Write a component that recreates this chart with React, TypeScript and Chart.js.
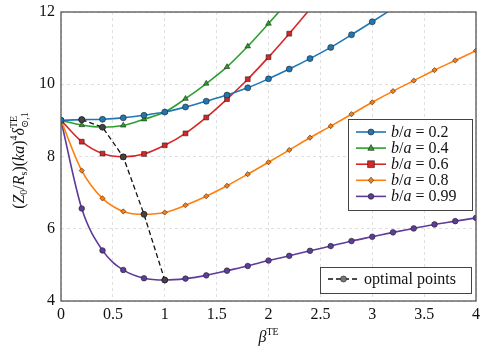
import React, { useEffect, useRef } from "react";
import { Chart, registerables } from "chart.js";

Chart.register(...registerables);

const beta = [0, 0.2, 0.4, 0.6, 0.8, 1.0, 1.2, 1.4, 1.6, 1.8, 2.0, 2.2, 2.4, 2.6, 2.8, 3.0, 3.2, 3.4, 3.6, 3.8, 4.0];

const s02 = [9.0, 9.02, 9.03, 9.07, 9.14, 9.23, 9.37, 9.53, 9.7, 9.9, 10.15, 10.42, 10.71, 11.02, 11.37, 11.73, 12.1];
const s04 = [9.0, 8.87, 8.81, 8.86, 9.03, 9.23, 9.6, 10.02, 10.48, 11.05, 11.68, 12.33];
const s06 = [9.0, 8.41, 8.08, 7.99, 8.07, 8.31, 8.64, 9.08, 9.59, 10.14, 10.75, 11.4, 12.08];
const s08 = [9.0, 7.61, 6.84, 6.48, 6.4, 6.45, 6.65, 6.9, 7.19, 7.51, 7.84, 8.18, 8.52, 8.84, 9.17, 9.5, 9.81, 10.1, 10.39, 10.66, 10.93];
const s099 = [9.0, 6.56, 5.4, 4.86, 4.63, 4.58, 4.62, 4.71, 4.84, 4.97, 5.12, 5.25, 5.39, 5.52, 5.66, 5.78, 5.9, 6.01, 6.12, 6.21, 6.3];

const optX = [0.2, 0.4, 0.6, 0.8, 1.0];
const optY = [9.02, 8.81, 7.99, 6.4, 4.58];

const seriesLabels = ["0.2", "0.4", "0.6", "0.8", "0.99"];
const seriesValues = [s02, s04, s06, s08, s099];
const seriesColors = ["#1f77b4", "#2ca02c", "#d62728", "#ff7f0e", "#5e3c99"];
const seriesMarkers = ["circle", "triangle", "rect", "rectRot", "circle"];
const markerSizes = [3, 3.2, 3.4, 2.6, 2.8];

const xTicks = [0, 0.5, 1, 1.5, 2, 2.5, 3, 3.5, 4];
const yTicks = [4, 6, 8, 10, 12];

const SERIF = "'Liberation Serif', 'DejaVu Serif', serif";

type Seg = { t: string; it?: boolean; size?: number; dy?: number; stack?: { sup: string; sub: string } };

function segFont(s: Seg, base: number) {
  return `${s.it ? "italic " : ""}${s.size ?? base}px ${SERIF}`;
}

function measureSegs(ctx: CanvasRenderingContext2D, segs: Seg[], base: number) {
  let w = 0;
  for (const s of segs) {
    if (s.stack) {
      ctx.font = `${10}px ${SERIF}`;
      w += Math.max(ctx.measureText(s.stack.sup).width, ctx.measureText(s.stack.sub).width) + 1;
    } else {
      ctx.font = segFont(s, base);
      w += ctx.measureText(s.t).width;
    }
  }
  return w;
}

function drawSegs(ctx: CanvasRenderingContext2D, segs: Seg[], x: number, y: number, base: number) {
  let cx = x;
  ctx.textBaseline = "alphabetic";
  ctx.textAlign = "left";
  for (const s of segs) {
    if (s.stack) {
      ctx.font = `${10}px ${SERIF}`;
      ctx.fillText(s.stack.sup, cx, y - 7);
      ctx.fillText(s.stack.sub, cx, y + 4);
      cx += Math.max(ctx.measureText(s.stack.sup).width, ctx.measureText(s.stack.sub).width) + 1;
    } else {
      ctx.font = segFont(s, base);
      ctx.fillText(s.t, cx, y + (s.dy ?? 0));
      cx += ctx.measureText(s.t).width;
    }
  }
}

function drawMarker(ctx: CanvasRenderingContext2D, style: string, x: number, y: number, r: number) {
  ctx.beginPath();
  if (style === "circle") {
    ctx.arc(x, y, r, 0, Math.PI * 2);
  } else if (style === "triangle") {
    ctx.moveTo(x, y - r * 1.1);
    ctx.lineTo(x + r, y + r * 0.7);
    ctx.lineTo(x - r, y + r * 0.7);
    ctx.closePath();
  } else if (style === "rect") {
    ctx.rect(x - r, y - r, 2 * r, 2 * r);
  } else {
    ctx.moveTo(x, y - r * 1.2);
    ctx.lineTo(x + r, y);
    ctx.lineTo(x, y + r * 1.2);
    ctx.lineTo(x - r, y);
    ctx.closePath();
  }
  ctx.fill();
  ctx.stroke();
}

const decorPlugin = {
  id: "decor",
  afterDraw(chart: any) {
    const ctx: CanvasRenderingContext2D = chart.ctx;
    const a = chart.chartArea;
    ctx.save();
    ctx.strokeStyle = "#555";
    ctx.lineWidth = 1.3;
    ctx.setLineDash([]);
    ctx.strokeRect(a.left, a.top, a.right - a.left, a.bottom - a.top);

    ctx.fillStyle = "#111";
    const xs: Seg[] = [{ t: "β", it: true }, { t: "TE", size: 10, dy: -7 }];
    const xw = measureSegs(ctx, xs, 16);
    drawSegs(ctx, xs, (a.left + a.right) / 2 - xw / 2, 342, 16);

    const ys: Seg[] = [
      { t: "(" },
      { t: "Z", it: true },
      { t: "0", size: 10, dy: 3 },
      { t: "/" },
      { t: "R", it: true },
      { t: "s", size: 10, dy: 3 },
      { t: ")(" },
      { t: "ka", it: true },
      { t: ")" },
      { t: "4", size: 10, dy: -7 },
      { t: "δ", it: true },
      { t: "", stack: { sup: "TE", sub: "⊙,1" } },
    ];
    const yw = measureSegs(ctx, ys, 16);
    ctx.save();
    ctx.translate(24, 160);
    ctx.rotate(-Math.PI / 2);
    drawSegs(ctx, ys, -yw / 2, 0, 16);
    ctx.restore();

    const lx = 348, ly = 119, lw = 124, lh = 91;
    ctx.fillStyle = "#fff";
    ctx.fillRect(lx, ly, lw, lh);
    ctx.strokeStyle = "#444";
    ctx.lineWidth = 1;
    ctx.strokeRect(lx + 0.5, ly + 0.5, lw, lh);
    for (let i = 0; i < seriesLabels.length; i++) {
      const cy = 132 + i * 16.1;
      ctx.strokeStyle = seriesColors[i];
      ctx.lineWidth = 1.6;
      ctx.beginPath();
      ctx.moveTo(356, cy);
      ctx.lineTo(386, cy);
      ctx.stroke();
      ctx.fillStyle = seriesColors[i];
      ctx.strokeStyle = "#222";
      ctx.lineWidth = 0.6;
      drawMarker(ctx, seriesMarkers[i], 371, cy, markerSizes[i]);
      ctx.fillStyle = "#111";
      const segs: Seg[] = [
        { t: "b", it: true },
        { t: "/" },
        { t: "a", it: true },
        { t: " = " },
        { t: seriesLabels[i] },
      ];
      drawSegs(ctx, segs, 391, cy + 5, 16);
    }

    const l2x = 320, l2y = 267, l2w = 151, l2h = 26;
    ctx.fillStyle = "#fff";
    ctx.fillRect(l2x, l2y, l2w, l2h);
    ctx.strokeStyle = "#444";
    ctx.lineWidth = 1;
    ctx.strokeRect(l2x + 0.5, l2y + 0.5, l2w, l2h);
    const cy2 = 279;
    ctx.strokeStyle = "#111";
    ctx.lineWidth = 1.3;
    ctx.setLineDash([5, 3]);
    ctx.beginPath();
    ctx.moveTo(328, cy2);
    ctx.lineTo(359, cy2);
    ctx.stroke();
    ctx.setLineDash([]);
    ctx.fillStyle = "#777";
    ctx.strokeStyle = "#222";
    ctx.lineWidth = 0.6;
    drawMarker(ctx, "circle", 343.5, cy2, 3);
    ctx.fillStyle = "#111";
    ctx.font = `16px ${SERIF}`;
    ctx.textBaseline = "alphabetic";
    ctx.fillText("optimal points", 364, cy2 + 5);
    ctx.restore();
  },
};

export default function App() {
  const ref = useRef<HTMLCanvasElement>(null);
  useEffect(() => {
    if (!ref.current) return;
    const datasets: any[] = seriesValues.map((vals, i) => ({
      label: "b/a = " + seriesLabels[i],
      data: vals.map((v, j) => ({ x: beta[j], y: v })),
      borderColor: seriesColors[i],
      backgroundColor: seriesColors[i],
      pointBackgroundColor: seriesColors[i],
      pointBorderColor: "#222",
      pointBorderWidth: 0.6,
      pointStyle: seriesMarkers[i],
      pointRadius: markerSizes[i],
      borderWidth: 1.6,
      cubicInterpolationMode: "monotone",
      order: 2,
    }));
    datasets.push({
      label: "optimal points",
      data: optX.map((x, j) => ({ x, y: optY[j] })),
      borderColor: "#111",
      backgroundColor: "#444",
      pointBackgroundColor: "#444",
      pointBorderColor: "#111",
      pointBorderWidth: 0.6,
      pointStyle: "circle",
      pointRadius: 3,
      borderWidth: 1.3,
      borderDash: [5, 3],
      tension: 0,
      order: 1,
    });
    const chart = new Chart(ref.current, {
      type: "line",
      data: { datasets },
      plugins: [decorPlugin],
      options: {
        animation: false,
        responsive: true,
        maintainAspectRatio: false,
        layout: { padding: { top: 12, right: 10, left: 0, bottom: 0 } },
        plugins: { legend: { display: false }, tooltip: { enabled: false } },
        scales: {
          x: {
            type: "linear",
            min: 0,
            max: 4,
            afterBuildTicks: (s: any) => {
              s.ticks = xTicks.map((v) => ({ value: v }));
            },
            ticks: {
              color: "#111",
              font: { family: SERIF, size: 16 },
              padding: 4,
              maxRotation: 0,
              callback: (v: any) => String(Number(v)),
            },
            grid: { color: "#d8d8d8", lineWidth: 0.8, drawTicks: false },
            border: { display: false, dash: [3, 3] },
            afterFit: (s: any) => {
              s.height = 53;
              s.paddingLeft = 0;
              s.paddingRight = 0;
            },
          },
          y: {
            type: "linear",
            min: 4,
            max: 12,
            afterBuildTicks: (s: any) => {
              s.ticks = yTicks.map((v) => ({ value: v }));
            },
            ticks: {
              color: "#111",
              font: { family: SERIF, size: 16 },
              padding: 6,
              callback: (v: any) => String(Number(v)),
            },
            grid: { color: "#d8d8d8", lineWidth: 0.8, drawTicks: false },
            border: { display: false, dash: [3, 3] },
            afterFit: (s: any) => {
              s.width = 61;
              s.paddingTop = 0;
              s.paddingBottom = 0;
            },
          },
        },
      } as any,
    });
    return () => chart.destroy();
  }, []);
  return (
    <div style={{ position: "fixed", left: 0, top: 0, width: 486, height: 354, background: "#fff" }}>
      <canvas ref={ref} />
    </div>
  );
}
